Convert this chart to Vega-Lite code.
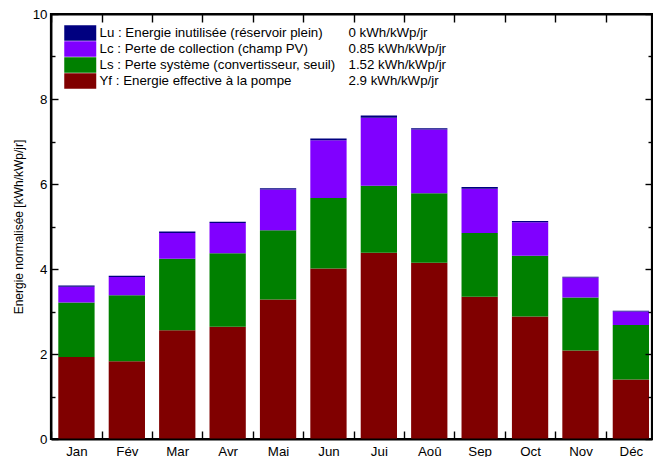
{
  "$schema": "https://vega.github.io/schema/vega-lite/v6.json",
  "autosize": {"type": "none"},
  "padding": {"left": 51, "top": 14, "right": 1, "bottom": 18},
  "width": 601,
  "height": 425,
  "background": "white",
  "config": {
    "view": {"stroke": "#000000", "strokeWidth": 2.2},
    "font": "Liberation Sans",
    "axis": {
      "domainColor": "black",
      "domainWidth": 1.8,
      "tickColor": "black",
      "tickWidth": 1.4,
      "labelColor": "black",
      "labelFont": "Liberation Sans",
      "labelFontSize": 13.3,
      "grid": false
    },
    "legend": {
      "labelFont": "Liberation Sans",
      "labelFontSize": 13.3,
      "labelColor": "black",
      "labelLimit": 0,
      "padding": 0,
      "offset": 0,
      "rowPadding": 0
    }
  },
  "datasets": {
    "composants": [
      {"c": "Lu", "nom": "Lu : Energie inutilisée (réservoir plein)", "valeur": "0 kWh/kWp/jr", "ordre": 4},
      {"c": "Lc", "nom": "Lc : Perte de collection (champ PV)", "valeur": "0.85 kWh/kWp/jr", "ordre": 3},
      {"c": "Ls", "nom": "Ls : Perte système (convertisseur, seuil)", "valeur": "1.52 kWh/kWp/jr", "ordre": 2},
      {"c": "Yf", "nom": "Yf : Energie effective à la pompe", "valeur": "2.9 kWh/kWp/jr", "ordre": 1}
    ],
    "mesures": [
      {"mois": "Jan", "c": "Yf", "v": 1.93}, {"mois": "Jan", "c": "Ls", "v": 1.28}, {"mois": "Jan", "c": "Lc", "v": 0.37}, {"mois": "Jan", "c": "Lu", "v": 0.03},
      {"mois": "Fév", "c": "Yf", "v": 1.83}, {"mois": "Fév", "c": "Ls", "v": 1.55}, {"mois": "Fév", "c": "Lc", "v": 0.43}, {"mois": "Fév", "c": "Lu", "v": 0.03},
      {"mois": "Mar", "c": "Yf", "v": 2.56}, {"mois": "Mar", "c": "Ls", "v": 1.68}, {"mois": "Mar", "c": "Lc", "v": 0.61}, {"mois": "Mar", "c": "Lu", "v": 0.03},
      {"mois": "Avr", "c": "Yf", "v": 2.64}, {"mois": "Avr", "c": "Ls", "v": 1.73}, {"mois": "Avr", "c": "Lc", "v": 0.71}, {"mois": "Avr", "c": "Lu", "v": 0.03},
      {"mois": "Mai", "c": "Yf", "v": 3.28}, {"mois": "Mai", "c": "Ls", "v": 1.63}, {"mois": "Mai", "c": "Lc", "v": 0.96}, {"mois": "Mai", "c": "Lu", "v": 0.03},
      {"mois": "Jun", "c": "Yf", "v": 4.01}, {"mois": "Jun", "c": "Ls", "v": 1.66}, {"mois": "Jun", "c": "Lc", "v": 1.36}, {"mois": "Jun", "c": "Lu", "v": 0.04},
      {"mois": "Jui", "c": "Yf", "v": 4.38}, {"mois": "Jui", "c": "Ls", "v": 1.58}, {"mois": "Jui", "c": "Lc", "v": 1.60}, {"mois": "Jui", "c": "Lu", "v": 0.05},
      {"mois": "Aoû", "c": "Yf", "v": 4.15}, {"mois": "Aoû", "c": "Ls", "v": 1.63}, {"mois": "Aoû", "c": "Lc", "v": 1.50}, {"mois": "Aoû", "c": "Lu", "v": 0.03},
      {"mois": "Sep", "c": "Yf", "v": 3.35}, {"mois": "Sep", "c": "Ls", "v": 1.50}, {"mois": "Sep", "c": "Lc", "v": 1.04}, {"mois": "Sep", "c": "Lu", "v": 0.04},
      {"mois": "Oct", "c": "Yf", "v": 2.88}, {"mois": "Oct", "c": "Ls", "v": 1.43}, {"mois": "Oct", "c": "Lc", "v": 0.79}, {"mois": "Oct", "c": "Lu", "v": 0.03},
      {"mois": "Nov", "c": "Yf", "v": 2.08}, {"mois": "Nov", "c": "Ls", "v": 1.25}, {"mois": "Nov", "c": "Lc", "v": 0.47}, {"mois": "Nov", "c": "Lu", "v": 0.02},
      {"mois": "Déc", "c": "Yf", "v": 1.40}, {"mois": "Déc", "c": "Ls", "v": 1.28}, {"mois": "Déc", "c": "Lc", "v": 0.32}, {"mois": "Déc", "c": "Lu", "v": 0.02}
    ]
  },
  "data": {"name": "mesures"},
  "transform": [
    {"lookup": "c", "from": {"data": {"name": "composants"}, "key": "c", "fields": ["nom", "valeur", "ordre"]}}
  ],
  "layer": [
    {
      "mark": {"type": "bar"},
      "encoding": {
        "x": {
          "field": "mois", "type": "nominal", "sort": null,
          "scale": {"domain": ["Jan", "Fév", "Mar", "Avr", "Mai", "Jun", "Jui", "Aoû", "Sep", "Oct", "Nov", "Déc"], "paddingInner": 0.28, "paddingOuter": 0.102, "align": 0.71},
          "axis": {"orient": "bottom", "title": null, "labelAngle": 0, "tickSize": -8, "tickOffset": -25.2, "labelOffset": 25.2, "labelPadding": 13, "zindex": 1}
        },
        "y": {
          "field": "v", "type": "quantitative", "stack": "zero",
          "scale": {"domain": [0, 10], "nice": false},
          "axis": {
            "orient": "left",
            "zindex": 1,
            "title": "Energie normalisée [kWh/kWp/jr]",
            "titleFont": "Liberation Sans", "titleFontSize": 12, "titleFontWeight": "normal", "titleColor": "black",
            "titleX": -33, "titleY": 212.5, "titleAngle": 270, "titleBaseline": "middle", "titleAlign": "center",
            "values": [0, 1, 2, 3, 4, 5, 6, 7, 8, 9, 10],
            "labelExpr": "datum.value % 2 === 0 ? datum.label : ''",
            "labelBaseline": "middle",
            "tickSize": {"condition": {"test": "datum.value % 2 === 0", "value": -7}, "value": -4},
            "labelPadding": 11
          }
        },
        "color": {
          "field": "nom", "type": "nominal",
          "scale": {
            "domain": ["Lu : Energie inutilisée (réservoir plein)", "Lc : Perte de collection (champ PV)", "Ls : Perte système (convertisseur, seuil)", "Yf : Energie effective à la pompe"],
            "range": ["#000080", "#8000ff", "#008000", "#800000"]
          },
          "legend": {
            "title": null, "orient": "none", "legendX": 21.25, "legendY": 11,
            "symbolType": "M-2.065,-1H2.065V1H-2.065Z", "symbolSize": 240, "symbolStrokeWidth": 0,
            "labelOffset": 11.25
          }
        },
        "opacity": {
          "field": "valeur", "type": "nominal",
          "scale": {"type": "ordinal", "domain": ["0 kWh/kWp/jr", "0.85 kWh/kWp/jr", "1.52 kWh/kWp/jr", "2.9 kWh/kWp/jr"], "range": [1, 1, 1, 1]},
          "legend": {
            "title": null, "orient": "none", "legendX": 281.5, "legendY": 11,
            "symbolSize": 240, "symbolStrokeWidth": 0, "symbolOpacity": 0, "symbolFillColor": "transparent", "labelOffset": 0,
            "encode": {"symbols": {"update": {"opacity": {"value": 0}, "fill": {"value": "transparent"}, "stroke": {"value": "transparent"}}}}
          }
        },
        "order": {"field": "ordre", "type": "quantitative"}
      }
    },
    {
      "mark": {"type": "bar", "fillOpacity": 0, "strokeOpacity": 0},
      "encoding": {
        "x": {
          "field": "mois", "type": "nominal", "sort": null,
          "axis": {"orient": "top", "title": null, "labels": true, "labelExpr": "''", "domain": true, "domainColor": "black", "domainWidth": 2.2, "tickSize": -8, "tickOffset": -25.2, "zindex": 1}
        },
        "y": {
          "field": "v", "type": "quantitative", "stack": "zero",
          "axis": {
            "orient": "right", "title": null, "labels": true, "labelExpr": "''", "domain": true, "domainColor": "black", "domainWidth": 2.2, "zindex": 1,
            "values": [0, 1, 2, 3, 4, 5, 6, 7, 8, 9, 10],
            "tickSize": {"condition": {"test": "datum.value % 2 === 0", "value": -7}, "value": -4}
          }
        }
      }
    }
  ],
  "resolve": {"axis": {"x": "independent", "y": "independent"}}
}
